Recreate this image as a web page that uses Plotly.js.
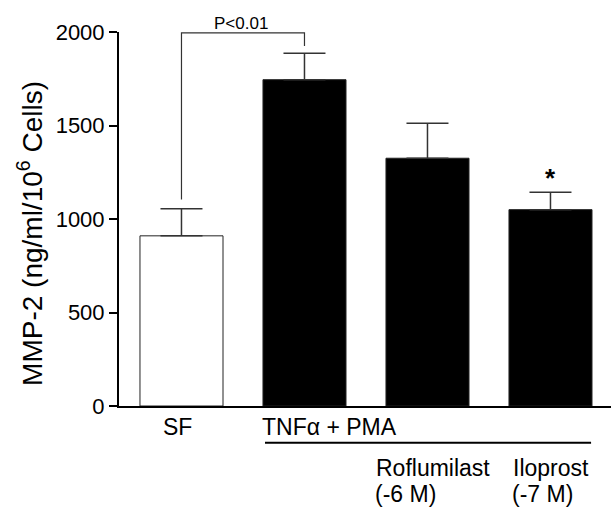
<!DOCTYPE html>
<html><head><meta charset="utf-8">
<script src="https://cdn.plot.ly/plotly-3.0.1.min.js"></script>
<style>html,body{margin:0;padding:0;background:#fff}#chart{width:611px;height:508px}</style>
</head><body><div id="chart"></div>
<script>
const groups = ['SF', 'TNFα + PMA', 'Roflumilast', 'Iloprost'];
const positions = [0, 1, 2, 3];
const meanValues = [910, 1745, 1325, 1050];
const errorValues = [145, 142, 187, 93];
const barColors = ['#ffffff', '#000000', '#000000', '#000000'];
const yTickValues = [0, 500, 1000, 1500, 2000];
const doseLabels = ['(-6 M)', '(-7 M)'];
const bracketX = [0, 0, 1, 1];
const bracketY = [1104, 1995, 1995, 1925];
const pLabel = 'P<0.01';
const starLabel = '*';
const yTitle = 'MMP-2 (ng/ml/10<sup>6</sup> Cells)';

const FONT = 'Liberation Sans, Arial, sans-serif';

const bars = {
  type: 'bar', x: positions, y: meanValues, width: 0.675,
  marker: {color: barColors, line: {color: '#222', width: 1}},
  error_y: {type: 'data', symmetric: false, array: errorValues, arrayminus: [0,0,0,0],
            color: '#333', thickness: 1.5, width: 21},
  hoverinfo: 'none', showlegend: false
};
const bracket = {
  type: 'scatter', mode: 'lines', x: bracketX, y: bracketY,
  line: {color: '#333', width: 1.2}, hoverinfo: 'none', showlegend: false, cliponaxis: false
};

const LBL = {size: 23, color: '#000', family: FONT};
const ann = [
  {x: positions[0]-0.03, y: -0.056, xref: 'x', yref: 'paper', text: groups[0], showarrow: false,
   xanchor: 'center', yanchor: 'middle', font: LBL},
  {x: 0.638, y: -0.056, xref: 'x', yref: 'paper', text: groups[1], showarrow: false,
   xanchor: 'left', yanchor: 'middle', font: LBL},
  {x: 1.565, y: -0.166, xref: 'x', yref: 'paper', text: groups[2], showarrow: false,
   xanchor: 'left', yanchor: 'middle', font: LBL},
  {x: 1.565, y: -0.2715, xref: 'x', yref: 'paper', text: doseLabels[0], showarrow: false,
   xanchor: 'left', yanchor: 'bottom', borderpad: 0, font: LBL},
  {x: 2.683, y: -0.166, xref: 'x', yref: 'paper', text: groups[3], showarrow: false,
   xanchor: 'left', yanchor: 'middle', font: LBL},
  {x: 2.683, y: -0.2715, xref: 'x', yref: 'paper', text: doseLabels[1], showarrow: false,
   xanchor: 'left', yanchor: 'bottom', borderpad: 0, font: LBL},
  {x: (bracketX[0]+bracketX[3])/2 - 0.02, y: bracketY[1], xref: 'x', yref: 'y', text: pLabel, showarrow: false,
   xanchor: 'center', yanchor: 'bottom', yshift: -2, font: {size: 17, color: '#000', family: FONT}},
  {x: positions[3], y: meanValues[3] + errorValues[3], xref: 'x', yref: 'y', text: '<b>' + starLabel + '</b>',
   showarrow: false, xanchor: 'center', yanchor: 'bottom', yshift: -3, font: {size: 26, color: '#000', family: FONT}},
  {x: -0.181, y: 0.4626, xref: 'paper', yref: 'paper', text: yTitle, showarrow: false, textangle: -90,
   xanchor: 'center', yanchor: 'middle', font: {size: 28, color: '#000', family: FONT}}
];

const layout = {
  width: 611, height: 508,
  margin: {l: 119, r: 0, t: 32, b: 102},
  paper_bgcolor: '#fff', plot_bgcolor: '#fff',
  font: {family: FONT, color: '#000'},
  xaxis: {range: [-0.508, 3.492], showline: true, linewidth: 2, linecolor: '#000',
          showticklabels: false, ticks: '', showgrid: false, zeroline: false, fixedrange: true},
  yaxis: {range: [0, 2000], tickvals: yTickValues, showline: true, linewidth: 2, linecolor: '#000',
          ticks: 'outside', ticklen: 8, tickwidth: 2, tickcolor: '#000',
          tickfont: {size: 22, family: FONT, color: '#000'},
          showgrid: false, zeroline: false, fixedrange: true},
  shapes: [
    {type: 'line', xref: 'x', yref: 'paper', x0: 0.679, x1: 3.33, y0: -0.098, y1: -0.098,
     line: {color: '#000', width: 2}}
  ],
  annotations: ann,
  bargap: 0.2
};

Plotly.newPlot('chart', [bars, bracket], layout, {displayModeBar: false, staticPlot: true});
</script>
</body></html>
